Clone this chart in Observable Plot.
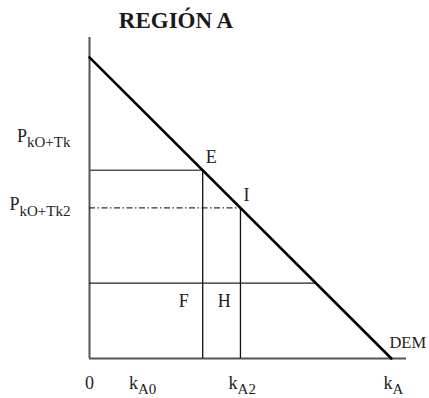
<!DOCTYPE html>
<html>
<head>
<meta charset="utf-8">
<script src="https://cdn.jsdelivr.net/npm/d3@7"></script>
<script src="https://cdn.jsdelivr.net/npm/@observablehq/plot@0.6"></script>
<style>
  html, body { margin: 0; padding: 0; background: #fff; }
</style>
</head>
<body>
<div id="chart"></div>
<script>
// ---- data ----
const titleText = "REGIÓN A";
const xMax = 105;          // end of quantity axis
const yMax = 106.6;        // end of price axis
const demandQ = [0, 100];
const demandP = [100, 0];
const pointNames = ["E", "I"];
const pointQ = [37.5, 50];
const pointP = [62.5, 50];
const lowP = 25;           // lower horizontal line price
const lowQ = 75;           // where it meets demand
const yTickLabels = ["P_kO+Tk", "P_kO+Tk2"];
const yTickP = [72, 49.2];
const xTickLabels = ["0", "k_A0", "k_A2", "k_A"];
const xTickQ = [0, 17.6, 50.6, 100.7];
const curveLabel = "DEM";

const demand = demandQ.map((q, i) => ({q, p: demandP[i]}));
const pts = pointNames.map((n, i) => ({n, q: pointQ[i], p: pointP[i]}));
const yTicks = yTickLabels.map((t, i) => ({t, p: yTickP[i]}));
const xTicks = xTickLabels.map((t, i) => ({t, q: xTickQ[i]}));

const serif = "Liberation Serif";

const chart = Plot.plot({
  width: 429,
  height: 398,
  marginLeft: 89,
  marginRight: 23,
  marginTop: 37,
  marginBottom: 40,
  x: {domain: [0, xMax], axis: null},
  y: {domain: [0, yMax], axis: null},
  marks: [
    // axes
    Plot.ruleX([0], {y1: 0, y2: yMax, stroke: "#555", strokeWidth: 2}),
    Plot.ruleY([0], {x1: 0, x2: xMax, stroke: "#555", strokeWidth: 2}),
    // horizontal through E
    Plot.ruleY([pts[0]], {y: "p", x1: 0, x2: "q", stroke: "#555", strokeWidth: 1.6}),
    // dash-dot through I
    Plot.ruleY([pts[1]], {y: "p", x1: 0, x2: "q", stroke: "#333", strokeWidth: 1.2, strokeDasharray: "6,2.5,1.5,2.5"}),
    // lower horizontal
    Plot.ruleY([{p: lowP, q: lowQ}], {y: "p", x1: 0, x2: "q", stroke: "#222", strokeWidth: 1.3}),
    // verticals
    Plot.ruleX(pts, {x: "q", y1: 0, y2: "p", stroke: "#111", strokeWidth: 1.3}),
    // demand
    Plot.line(demand, {x: "q", y: "p", stroke: "#000", strokeWidth: 2.6}),
    // point labels
    Plot.text(pts, {x: "q", y: "p", text: "n", textAnchor: "start", lineAnchor: "bottom", dx: 3, dy: -7, fontSize: 18, fontFamily: serif, fill: "#222"}),
    Plot.text([pts[0]], {x: "q", y: () => lowP, text: () => "F", textAnchor: "end", lineAnchor: "bottom", dx: -14, dy: 24, fontSize: 18, fontFamily: serif, fill: "#222"}),
    Plot.text([pts[0]], {x: "q", y: () => lowP, text: () => "H", textAnchor: "start", lineAnchor: "bottom", dx: 15, dy: 24, fontSize: 18, fontFamily: serif, fill: "#222"}),
    Plot.text([demand[1]], {x: "q", y: "p", text: () => curveLabel, textAnchor: "start", lineAnchor: "bottom", dx: -2, dy: -11, fontSize: 16.5, fontFamily: serif, fill: "#222"}),
    // tick labels
    Plot.text(yTicks, {x: () => 0, y: "p", text: "t", textAnchor: "end", lineAnchor: "bottom", dx: -19, fontSize: 18, fontFamily: serif, fill: "#222", className: "sub"}),
    Plot.text(xTicks, {x: "q", y: () => 0, text: "t", textAnchor: "middle", lineAnchor: "bottom", dy: 30, fontSize: 18, fontFamily: serif, fill: "#222", className: "sub"}),
    // title
    Plot.text([titleText], {frameAnchor: "top", text: d => d, dx: -72, dy: -10, lineAnchor: "bottom", fontSize: 23, fontWeight: "bold", fontFamily: serif, fill: "#1a1a1a"})
  ]
});
chart.setAttribute("font-family", serif);

// turn "a_b" into main text + subscript
d3.select(chart).selectAll("text").each(function() {
  const t = this.textContent;
  const i = t.indexOf("_");
  if (i < 0) return;
  const main = t.slice(0, i), sub = t.slice(i + 1);
  const sel = d3.select(this);
  sel.text(null);
  sel.append("tspan").text(main);
  sel.append("tspan").attr("dy", "0.36em").attr("font-size", 15).text(sub);
});

document.getElementById("chart").appendChild(chart);
</script>
</body>
</html>
